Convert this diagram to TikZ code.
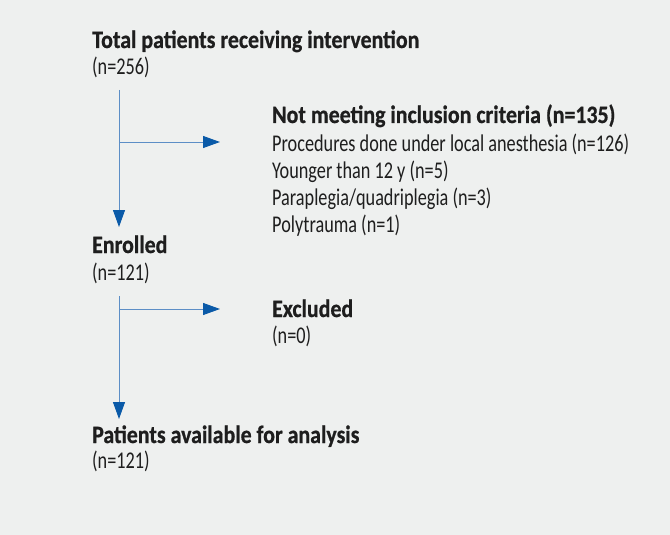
\documentclass[tikz,border=0pt]{standalone}
\usepackage{fontspec}
\setmainfont{Carlito}
\newfontfamily\bodyfont[FakeStretch=0.76]{Carlito}
\newfontfamily\headfont[FakeStretch=0.875,FakeBold=0.7]{Carlito}
\usetikzlibrary{arrows.meta}
\definecolor{bg}{RGB}{238,240,239}
\definecolor{linecol}{RGB}{92,142,198}
\definecolor{tipcol}{RGB}{10,90,168}
\definecolor{txt}{RGB}{30,30,30}
\begin{document}
\begin{tikzpicture}[x=1pt,y=-1pt,
  lbl/.style={anchor=base west,inner sep=0pt,text=txt,font=\bodyfont\fontsize{24}{26}\selectfont},
  hd/.style={lbl,font=\headfont\bfseries\fontsize{25}{26}\selectfont},
  flow/.style={draw=linecol,line width=1pt,-{Triangle[length=17pt,width=12pt,color=tipcol]}}]
\fill[bg] (0,0) rectangle (670,535);
\useasboundingbox (0,0) rectangle (670,535);
% blocks
\node[hd]  (tot)  at (92,48)  {Total patients receiving intervention};
\node[lbl] (totn) at (92,75)  {(n=256)};
\node[hd]  (nm)   at (272,123) {Not meeting inclusion criteria (n=135)};
\node[lbl] (nm1)  at (272,151) {Procedures done under local anesthesia (n=126)};
\node[lbl] (nm2)  at (272,178) {Younger than 12 y (n=5)};
\node[lbl] (nm3)  at (272,205) {Paraplegia/quadriplegia (n=3)};
\node[lbl] (nm4)  at (272,232) {Polytrauma (n=1)};
\node[hd]  (enr)  at (92,253) {Enrolled};
\node[lbl] (enrn) at (92,280) {(n=121)};
\node[hd]  (exc)  at (272,317) {Excluded};
\node[lbl] (excn) at (272,343) {(n=0)};
\node[hd]  (pat)  at (92,443) {Patients available for analysis};
\node[lbl] (patn) at (92,468) {(n=121)};
% connectors
\coordinate (s1) at (119,90);
\coordinate (e1) at (119,227);
\coordinate (b1) at (119,142);
\coordinate (h1) at (220,142);
\coordinate (s2) at (119,296);
\coordinate (e2) at (119,419);
\coordinate (b2) at (119,309);
\coordinate (h2) at (220,309);
\draw[flow] (s1) -- (e1);
\draw[flow] (b1) -- (h1);
\draw[flow] (s2) -- (e2);
\draw[flow] (b2) -- (h2);
\end{tikzpicture}
\end{document}
